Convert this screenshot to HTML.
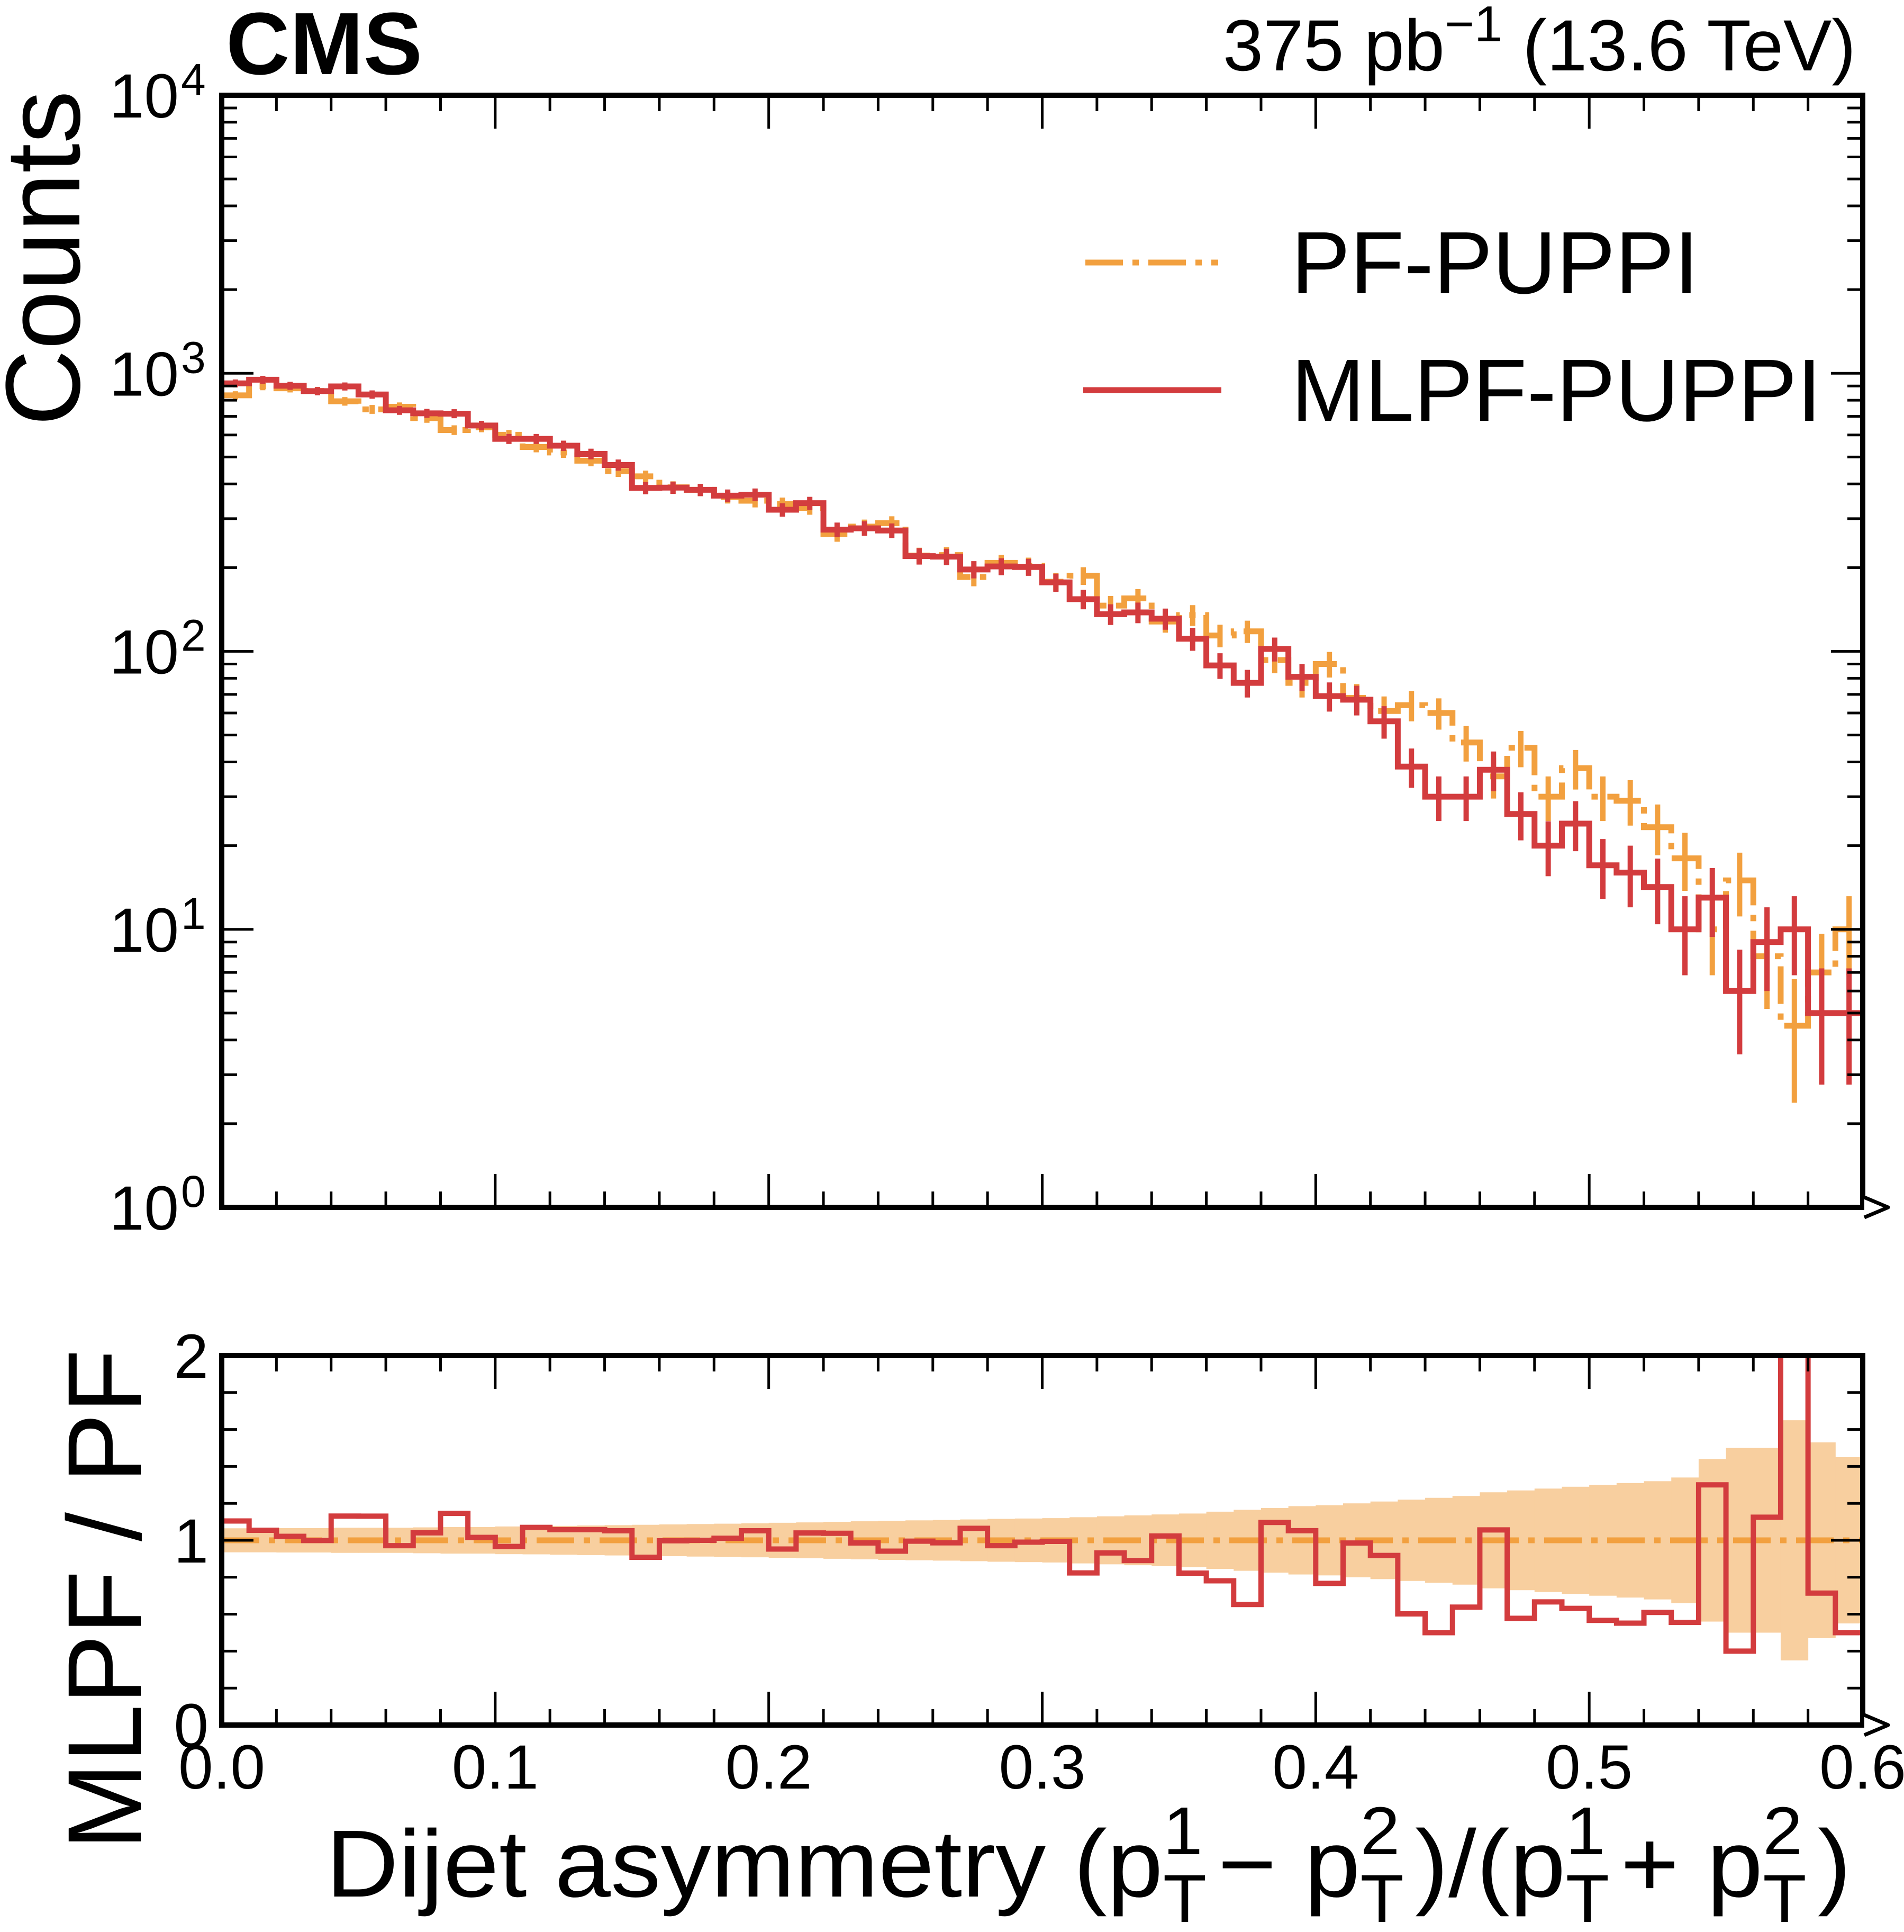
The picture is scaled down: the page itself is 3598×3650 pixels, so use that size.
<!DOCTYPE html>
<html><head><meta charset="utf-8">
<style>
html,body{margin:0;padding:0;background:#fff;}
svg{display:block;font-family:"Liberation Sans",Arial,sans-serif;}
</style></head>
<body>
<svg id="chart" width="3598" height="3650" viewBox="0 0 3598 3650" xmlns="http://www.w3.org/2000/svg">
<defs>
<clipPath id="clipMain"><rect x="419" y="180" width="3101" height="2101"/></clipPath>
<clipPath id="clipRatio"><rect x="419" y="2561" width="3101" height="698"/></clipPath>
</defs>
<rect x="0" y="0" width="3598" height="3650" fill="#fff"/>
<g id="ratioBand" clip-path="url(#clipRatio)"></g>
<g id="mainMarks" clip-path="url(#clipMain)"></g>
<g id="ratioMarks" clip-path="url(#clipRatio)"></g>
<g id="axes"></g>

<text x="427" y="140" font-size="167" font-weight="bold">CMS</text>
<text x="3507" y="133" font-size="137" text-anchor="end">375 pb<tspan dy="-55" font-size="96">−1</tspan><tspan dy="55"> (13.6 TeV)</tspan></text>

<g>
  <g>
    <line x1="2051" y1="496" x2="2302" y2="496" stroke="#f2a03f" stroke-width="11" stroke-dasharray="71 18 12 18"/>
    <text x="2440" y="554" font-size="167">PF-PUPPI</text>
  </g>
  <g>
    <line x1="2047" y1="737" x2="2308" y2="737" stroke="#d33c3e" stroke-width="11"/>
    <text x="2440" y="795" font-size="167">MLPF-PUPPI</text>
  </g>
</g>

<text transform="translate(150,488) rotate(-90)" font-size="200" text-anchor="middle">Counts</text>
<text transform="translate(266,3022) rotate(-90)" font-size="198" text-anchor="middle">MLPF / PF</text>
<g id="xtitle"></g>
</svg>
<script>
// ---- data (60 bins of width 0.01 from 0 to 0.6) ----
const binEdgesLow = 0.0;
const binWidth = 0.01;
const mlpfCounts = [920,948,902,863,897,839,736,718,716,649,581,581,549,513,468,387,388,381,363,366,
  323,341,274,277,272,220,219,197,202,201,177,154,136,138,131,111,89,77,102,81,
  69,67,56,38.5,30,30,37.5,26,20,24,17,16,14.2,10,13,6,9,10,5,5];
const pfCounts = [833,899,883,864,793,742,758,690,625,639,601,543,519,485,445,426,389,381,359,348,
  339,328,264,281,289,221,222,185,208,203,178,187,146,155,128,135,114,118,93,77,
  90,68,61,64,60,47,35.5,45,30,38,30,29,23.3,18,10,15,8,4.5,7,10];
const bandErr = [0.065,0.065,0.066,0.066,0.068,0.068,0.068,0.07,0.072,0.072,
  0.075,0.076,0.078,0.08,0.082,0.084,0.086,0.088,0.09,0.092,
  0.095,0.097,0.1,0.103,0.106,0.108,0.11,0.113,0.116,0.118,
  0.12,0.125,0.13,0.135,0.14,0.145,0.155,0.165,0.175,0.185,
  0.19,0.2,0.21,0.22,0.23,0.24,0.26,0.27,0.28,0.29,
  0.3,0.31,0.32,0.34,0.44,0.5,0.5,0.65,0.53,0.45];
const xTickLabels = ["0.0","0.1","0.2","0.3","0.4","0.5","0.6"];
const yMainTickLabels = ["0","1","2","3","4"];
const yRatioTickLabels = ["0","1","2"];

const NS = "http://www.w3.org/2000/svg";
const L = 419, R = 3520, MT = 180, MB = 2281, RT = 2561, RB = 3259;
const RED = "#d33c3e", ORANGE = "#f2a03f", BAND = "#f8cf9f";
function xs(v){ return L + (v - 0) / 0.6 * (R - L); }
function ym(v){ const lv = Math.log10(Math.max(v, 1e-3)); return MB - lv / 4 * (MB - MT); }
function yr(v){ return RB - v / 2 * (RB - RT); }
function el(tag, attrs, parent){ const e = document.createElementNS(NS, tag); for (const k in attrs) e.setAttribute(k, attrs[k]); parent.appendChild(e); return e; }

const mainG = document.getElementById('mainMarks');
const ratioG = document.getElementById('ratioMarks');
const bandG = document.getElementById('ratioBand');
const axesG = document.getElementById('axes');

function stepPath(vals, yf){
  let d = "";
  vals.forEach((v,i)=>{
    const x0 = xs(binEdgesLow + i*binWidth), x1 = xs(binEdgesLow + (i+1)*binWidth), y = yf(v);
    d += (i===0 ? "M"+x0+","+y : "L"+x0+","+y) + " L"+x1+","+y+" ";
  });
  return d;
}

// band
bandErr.forEach((e,i)=>{
  const x0 = xs(binEdgesLow+i*binWidth), x1 = xs(binEdgesLow+(i+1)*binWidth);
  const r = el('rect',{x:x0, y:yr(1+e), width:x1-x0+0.5, height:yr(1-e)-yr(1+e), fill:BAND}, bandG);
  
  
});

// main histograms with error bars
function drawHist(vals, color, dash, name){
  const g = el('g',{}, mainG);
  
  
  const p = el('path',{d:stepPath(vals, ym), fill:'none', stroke:color, 'stroke-width':11, 'stroke-linejoin':'miter'}, g);
  if (dash) p.setAttribute('stroke-dasharray', dash);
  
  
  vals.forEach((v,i)=>{
    const xc = xs(binEdgesLow + (i+0.5)*binWidth), s = Math.sqrt(v);
    const ln = el('line',{x1:xc, x2:xc, y1:ym(v+s), y2:ym(Math.max(v-s, 1e-3)), stroke:color, 'stroke-width':10}, g);
    
    
  });
}
drawHist(pfCounts, ORANGE, "71 18 12 18", 'pf-puppi-histogram');
drawHist(mlpfCounts, RED, null, 'mlpf-puppi-histogram');

// ratio
const refLine = el('line',{x1:L, x2:R, y1:yr(1), y2:yr(1), stroke:ORANGE, 'stroke-width':11, 'stroke-dasharray':"71 18 12 18"}, ratioG);


const ratios = mlpfCounts.map((v,i)=> v / pfCounts[i]);
const rp = el('path',{d:stepPath(ratios, yr), fill:'none', stroke:RED, 'stroke-width':10}, ratioG);



// axes frames
function frame(top, bot, name){
  const r = el('rect',{x:L, y:top, width:R-L, height:bot-top, fill:'none', stroke:'#000', 'stroke-width':10}, axesG);
  
  
  const a = el('path',{d:`M${R+3},${bot-19} L${R+48},${bot} L${R+3},${bot+19}`, fill:'#fff', stroke:'#000', 'stroke-width':7, 'stroke-linejoin':'round'}, axesG);
  
  
}
frame(MT, MB, 'main-plot-frame');
frame(RT, RB, 'ratio-plot-frame');

function tick(x1,y1,x2,y2,name){
  const t = el('line',{x1,y1,x2,y2,stroke:'#000','stroke-width':5}, axesG);
  
  
}
for (let k=0;k<=30;k++){
  const v = k*0.02, x = xs(v), major = (k%5===0);
  const len = major ? 63 : 30;
  [[MT,MB],[RT,RB]].forEach(([t,b])=>{
    tick(x, t, x, t+len, 'x-tick');
    tick(x, b, x, b-len, 'x-tick');
  });
}
xTickLabels.forEach((lab,i)=>{
  const t = el('text',{x:xs(i*0.1), y:3379, 'font-size':118, 'text-anchor':'middle'}, axesG);
  t.textContent = lab;
  
  
});
for (let d=0; d<4; d++){
  for (let m=1; m<10; m++){
    const v = m*Math.pow(10,d), y = ym(v), len = (m===1)?60:29;
    tick(L, y, L+len, y, 'y-tick-main');
    tick(R, y, R-len, y, 'y-tick-main');
  }
}
tick(L, ym(1e4), L+60, ym(1e4), 'y-tick-main');
tick(R, ym(1e4), R-60, ym(1e4), 'y-tick-main');
yMainTickLabels.forEach((e,i)=>{
  const y = ym(Math.pow(10, +e)) + 42;
  const t = el('text',{x:338, y:y, 'font-size':118, 'text-anchor':'end'}, axesG);
  t.textContent = "10";
  
  
  const s = el('text',{x:342, y:y-43, 'font-size':84}, axesG);
  s.textContent = e;
  
  
});
for (let k=0;k<=10;k++){
  const v = k*0.2, y = yr(v), major = (k%5===0);
  const len = major ? 60 : 29;
  tick(L, y, L+len, y, 'y-tick-ratio');
  tick(R, y, R-len, y, 'y-tick-ratio');
}
yRatioTickLabels.forEach((lab)=>{
  const t = el('text',{x:394, y:yr(+lab)+42, 'font-size':118, 'text-anchor':'end'}, axesG);
  t.textContent = lab;
  
  
});

// x-axis title with stacked sup/sub
(function(){
  const g = document.getElementById('xtitle');
  const FS = 180, SS = 128, base = 3583;
  const parts = [["Dijet asymmetry (p","m"],["1","T"],[" − p","m"],["2","T"],[")/(p","m"],["1","T"],[" + p","m"],["2","T"],[")","m"]];
  let x = 0;
  parts.forEach(([s,type])=>{
    if (type==="m"){
      const t = el('text',{x:x, y:base, 'font-size':FS}, g);
      t.textContent = s;
      
      
      x += t.getComputedTextLength();
    } else {
      const a = el('text',{x:x, y:base-80, 'font-size':SS}, g);
      a.textContent = s;
      
      
      const b = el('text',{x:x, y:base+48, 'font-size':SS}, g);
      b.textContent = type;
      
      
      x += Math.max(a.getComputedTextLength(), b.getComputedTextLength()) + 20;
    }
  });
  const target = 3498 - 616;
  const sx = target / x;
  g.setAttribute('transform', `translate(616,0) scale(${sx},1)`);
})();
</script>
</body></html>
